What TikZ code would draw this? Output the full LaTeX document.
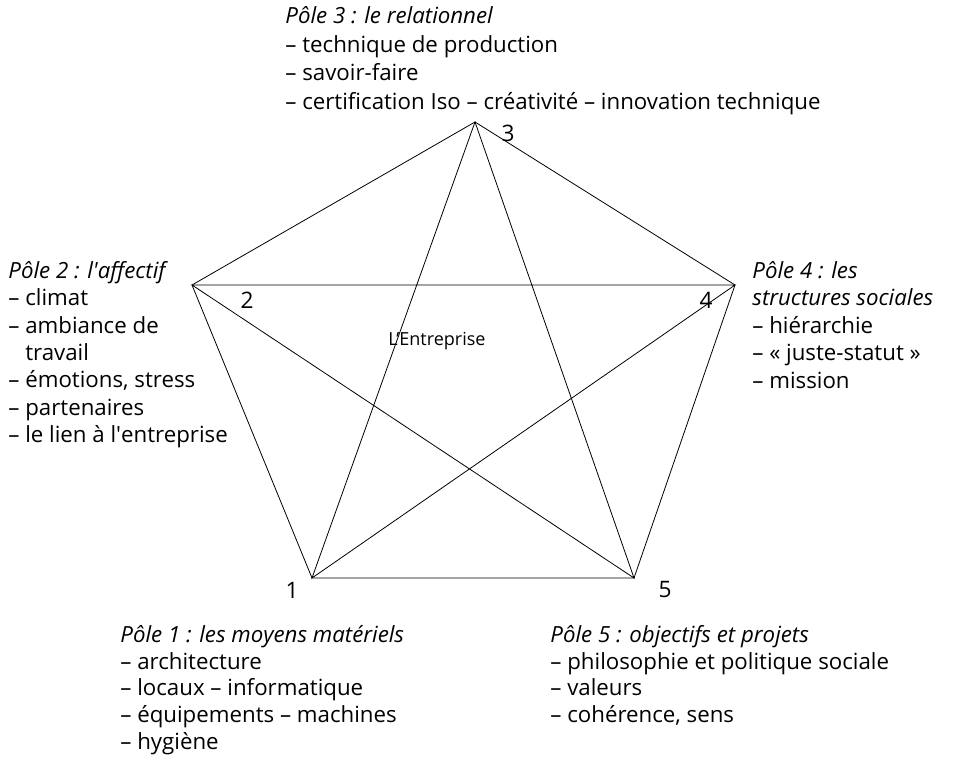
\documentclass[tikz,border=0pt]{standalone}
\usepackage{fontspec}
\setmainfont{Open Sans}
\begin{document}
\begin{tikzpicture}[x=0.75pt,y=-0.75pt, line width=0.6pt,
  lbl/.style={inner sep=0pt, anchor=north west, align=left},
  num/.style={font=\fontsize{17}{20}\selectfont, inner sep=0pt}]
\useasboundingbox (0,0) rectangle (959,762);
\coordinate (p1) at (312,578);
\coordinate (p2) at (192,285);
\coordinate (p3) at (475,122);
\coordinate (p4) at (735,285);
\coordinate (p5) at (634,578);
% pentagon
\draw (p3) -- (p4) -- (p5) -- (p1) -- (p2) -- cycle;
% star
\draw (p1) -- (p3) -- (p5) -- (p2) -- (p4) -- cycle;
% numbers
\node[num] (n3) at (508,133) {3};
\node[num] (n2) at (247,300) {2};
\node[num] (n4) at (706,300) {4};
\node[num] (n1) at (292,590) {1};
\node[num] (n5) at (665,590) {5};
\node[font=\fontsize{13.5}{16}\selectfont, inner sep=0pt] (ent) at (437,341) {L’Entreprise};
% pole texts
\node[lbl, font=\fontsize{16.7}{21.5}\selectfont] (t3) at (285,6) {\textit{Pôle 3 : le relationnel}\\
– technique de production\\
– savoir-faire\\
– certification Iso – créativité – innovation technique};
\node[lbl, font=\fontsize{16.7}{20.5}\selectfont] (t2) at (8,261) {\textit{Pôle 2 : l\textquotesingle affectif}\\
– climat\\
– ambiance de\\
\hphantom{– }travail\\
– émotions, stress\\
– partenaires\\
– le lien à l\textquotesingle entreprise};
\node[lbl, font=\fontsize{16.7}{20.6}\selectfont] (t4) at (752,261) {\textit{Pôle 4 : les}\\
\textit{structures sociales}\\
– hiérarchie\\
– « juste-statut »\\
– mission};
\node[lbl, font=\fontsize{16.7}{20}\selectfont] (t1) at (120,625) {\textit{Pôle 1 : les moyens matériels}\\
– architecture\\
– locaux – informatique\\
– équipements – machines\\
– hygiène};
\node[lbl, font=\fontsize{16.7}{20}\selectfont] (t5) at (550,625) {\textit{Pôle 5 : objectifs et projets}\\
– philosophie et politique sociale\\
– valeurs\\
– cohérence, sens};
\end{tikzpicture}
\end{document}
